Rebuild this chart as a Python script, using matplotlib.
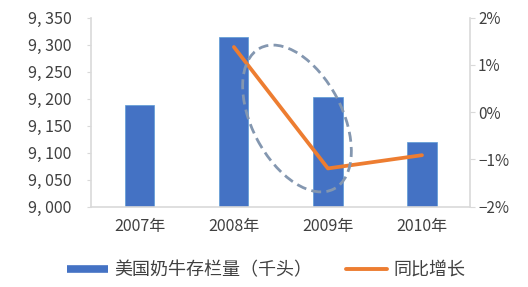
import numpy as np
import matplotlib
matplotlib.use("Agg")
import matplotlib.pyplot as plt
from matplotlib.lines import Line2D
from matplotlib.patches import Ellipse

plt.rcParams['font.family'] = ['Noto Sans CJK SC', 'DejaVu Sans']

# data
years = ["2007年", "2008年", "2009年", "2010年"]
stock = [9189, 9315, 9203, 9120]          # 千头
growth_years = [1, 2, 3]                  # line starts at 2008
growth = [1.38, -1.19, -0.91]             # %
left_ticks = [9000, 9050, 9100, 9150, 9200, 9250, 9300, 9350]
left_labels = ["9, 000", "9, 050", "9, 100", "9, 150", "9, 200", "9, 250", "9, 300", "9, 350"]
right_ticks = [-2, -1, 0, 1, 2]
right_labels = ["\u22122%", "\u22121%", "0%", "1%", "2%"]

blue = "#4472C4"
orange = "#ED7D31"
grey = "#D9D9D9"
txt = "#404040"

fig = plt.figure(figsize=(5.28, 2.87), dpi=100)
ax = fig.add_axes([0.1723, 0.2798, 0.7177, 0.6585])
x = np.arange(len(years))
ax.bar(x, stock, width=0.31, color=blue, edgecolor="#5B9BD5", linewidth=0.5, zorder=2)
ax.set_xlim(-0.52, 3.51)
ax.set_ylim(9000, 9350)
ax.set_yticks(left_ticks)
ax.set_yticklabels(left_labels, fontsize=11.5, color=txt)
ax.set_xticks(x)
ax.set_xticklabels(years, fontsize=11.5, color=txt)
ax.tick_params(axis='x', length=0, pad=8)
ax.tick_params(axis='y', length=3, color=grey, pad=11)
for s in ["top", "right"]:
    ax.spines[s].set_visible(False)
ax.spines["left"].set_color(grey)
ax.spines["bottom"].set_color(grey)
ax.spines["left"].set_linewidth(1.2)
ax.spines["bottom"].set_linewidth(1.2)

ax2 = ax.twinx()
ax2.plot(growth_years, growth, color=orange, lw=2.7, solid_capstyle="round", zorder=3)
ax2.set_ylim(-2, 2)
ax2.set_yticks(right_ticks)
ax2.set_yticklabels(right_labels, fontsize=11, color=txt)
ax2.tick_params(axis='y', length=3.8, color=grey, pad=2)
for s in ["top", "left", "bottom"]:
    ax2.spines[s].set_visible(False)
ax2.spines["right"].set_color(grey)
ax2.spines["right"].set_linewidth(1.2)

# dashed highlight ellipse (figure inches)
ell = Ellipse((2.97, 1.685), 1.59, 0.90, angle=-62.3, transform=fig.dpi_scale_trans,
              fill=False, edgecolor="#8497B0", lw=2.0, linestyle=(0, (3.6, 1.9)), zorder=5)
fig.add_artist(ell)

handles = [Line2D([], [], color=blue, lw=5.5, solid_capstyle="butt"),
           Line2D([], [], color=orange, lw=2.8, solid_capstyle="round")]
fig.legend(handles, ["美国奶牛存栏量（千头）", "同比增长"], loc="center",
           bbox_to_anchor=(0.504, 0.059), ncol=2, frameon=False, fontsize=13,
           handlelength=2.27, columnspacing=1.83, handletextpad=0.39, labelcolor=txt)

fig.savefig("out.png", dpi=100)
